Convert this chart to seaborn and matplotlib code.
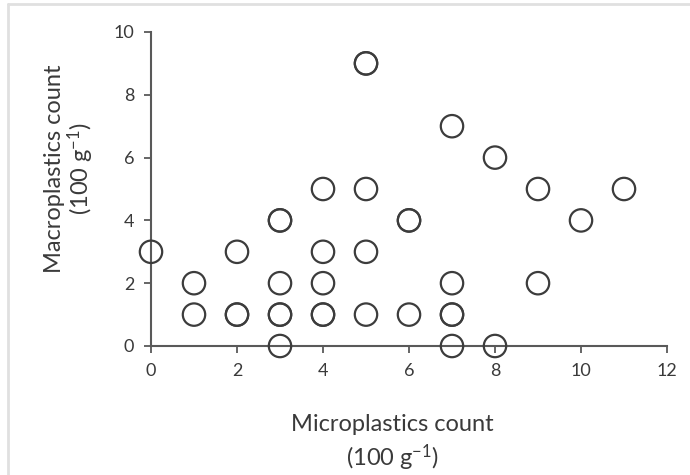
import matplotlib
matplotlib.use("Agg")
import matplotlib.pyplot as plt
import seaborn as sns
import pandas as pd
from matplotlib.lines import Line2D

# Data (duplicates appear as bolder circles in the reference)
micro = [0, 1, 1, 2, 2, 2, 3, 3, 3, 3, 3, 3, 4, 4, 4, 4, 4, 5, 5, 5, 5, 5, 6, 6, 6, 7, 7, 7, 7, 7, 8, 8, 9, 9, 10, 11]
macro = [3, 2, 1, 3, 1, 1, 4, 4, 2, 1, 1, 0, 5, 3, 2, 1, 1, 9, 9, 5, 3, 1, 4, 4, 1, 7, 2, 1, 1, 0, 6, 0, 5, 2, 4, 5]
x_ticks = [0, 2, 4, 6, 8, 10, 12]
y_ticks = [0, 2, 4, 6, 8, 10]

sns.set_theme(style="white")
plt.rcParams['font.family'] = ['Lato', 'DejaVu Sans']
plt.rcParams['mathtext.fontset'] = 'custom'
plt.rcParams['mathtext.rm'] = 'Lato'
plt.rcParams['mathtext.it'] = 'Lato'

df = pd.DataFrame({"micro": micro, "macro": macro})

fig = plt.figure(figsize=(6.9, 4.75), dpi=100)
ax = fig.add_axes([151/690, 1-346/475, (667-151)/690, (346-32)/475])

sns.scatterplot(data=df, x="micro", y="macro", ax=ax, marker="o", s=260,
                facecolor="none", edgecolor="#3c3c3c", linewidth=1.6, clip_on=False, zorder=3)

ax.set_xlim(0, 12)
ax.set_ylim(0, 10)
ax.set_xticks(x_ticks)
ax.set_yticks(y_ticks)
ax.tick_params(axis="both", direction="out", length=5, width=1.3, color="#595959",
               labelsize=13, labelcolor="#3a3a3a", pad=7, bottom=True, left=True)

for side in ["top", "right"]:
    ax.spines[side].set_visible(False)
for side in ["left", "bottom"]:
    ax.spines[side].set_color("#595959")
    ax.spines[side].set_linewidth(1.5)
    ax.spines[side].set_zorder(2)

ax.set_xlabel("Microplastics count\n(100 g$^{-1}$)", fontsize=17, color="#3a3a3a",
              linespacing=1.35, va="center", ha="center")
ax.xaxis.set_label_coords((392-151)/516, (346-443.5)/314)
ax.set_ylabel("Macroplastics count\n(100 g$^{-1}$)", fontsize=17, color="#3a3a3a",
              linespacing=1.05, va="center", ha="center")
ax.yaxis.set_label_coords((70-151)/516, (346-169)/314)

# light frame at top and left of the image
fig.add_artist(Line2D([8/690, 8/690], [0, 1-4/475], transform=fig.transFigure,
                      color="#e0e0e0", linewidth=2))
fig.add_artist(Line2D([8/690, 1], [1-4/475, 1-4/475], transform=fig.transFigure,
                      color="#e0e0e0", linewidth=2))

fig.savefig("out.png", dpi=100)
